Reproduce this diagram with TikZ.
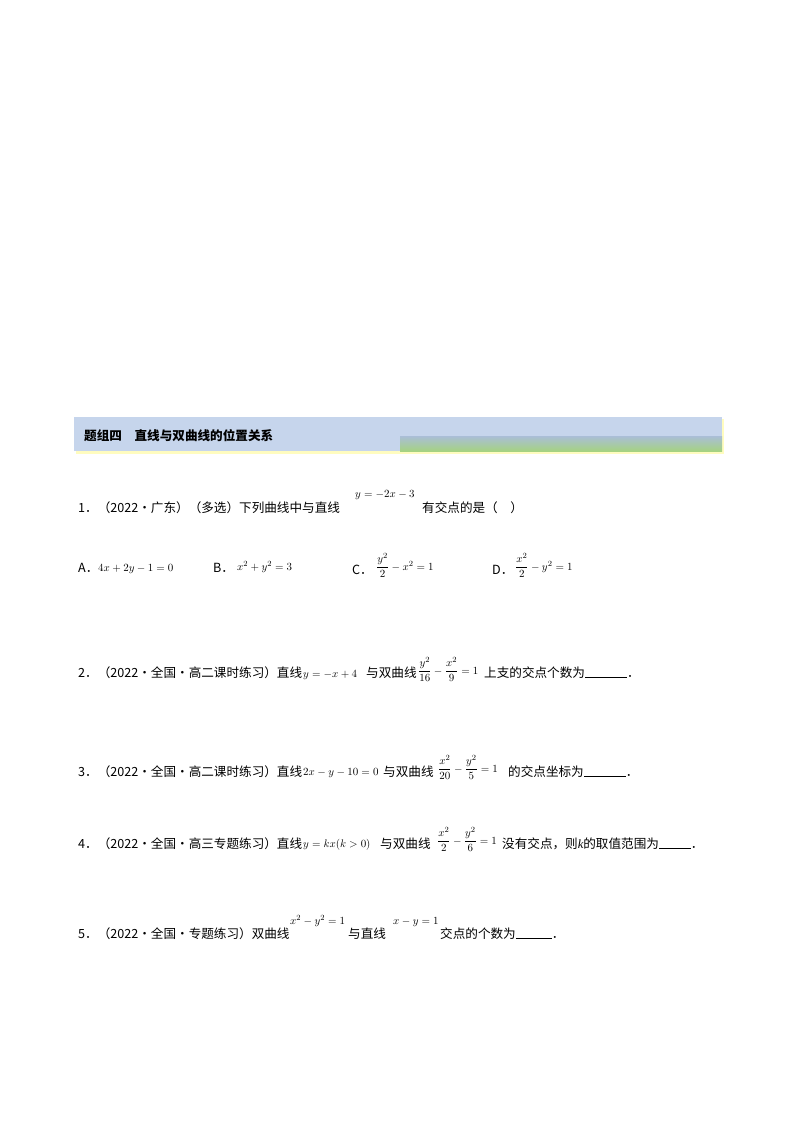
\documentclass[tikz,border=0pt]{standalone}
\usepackage{amsmath}
\usepackage{fontspec}
\setmainfont{Liberation Serif}
\newfontfamily\cjk{Noto Sans CJK SC}
\tikzset{
  txt/.style={anchor=base west,inner sep=0pt,font=\cjk\fontsize{12.6}{14}\selectfont},
  mth/.style={anchor=base west,inner sep=0pt,font=\fontsize{11}{13}\selectfont},
}
\newcommand{\fr}[2]{\dfrac{#1}{#2}}
\begin{document}
\begin{tikzpicture}[x=1pt,y=-1pt]
\useasboundingbox (0,0) rectangle (800,1132);
\fill[white] (0,0) rectangle (800,1132);
% header
\fill[yellow!25] (76,419) rectangle (724,454);
\fill[fill={rgb,255:red,198;green,213;blue,236}] (74,417) rectangle (722,451);
\shade[top color={rgb,255:red,170;green,190;blue,215},bottom color={rgb,255:red,165;green,210;blue,130}] (400,436) rectangle (722,451);
\node[txt,font=\cjk\bfseries\fontsize{12.6}{14}\selectfont] (h) at (84,440) {题组四\quad 直线与双曲线的位置关系};
% Q1
\node[txt] (q1a) at (78,512) {1．（2022·广东）（多选）下列曲线中与直线};
\node[mth] (q1m) at (355,497) {$y=-2x-3$};
\node[txt] (q1b) at (422,512) {有交点的是（\quad ）};
\node[txt] (oa) at (78,572) {A．};
\node[mth] (oam) at (98,571) {$4x+2y-1=0$};
\node[txt] (ob) at (213,572) {B．};
\node[mth] (obm) at (237,570) {$x^2+y^2=3$};
\node[txt] (oc) at (352,574) {C．};
\node[mth] (ocm) at (376,570) {$\fr{y^2}{2}-x^2=1$};
\node[txt] (od) at (492,574) {D．};
\node[mth] (odm) at (515,570) {$\fr{x^2}{2}-y^2=1$};
% Q2
\node[txt] (q2a) at (78,677) {2．（2022·全国·高二课时练习）直线};
\node[mth] (q2m) at (303,677) {$y=-x+4$};
\node[txt] (q2b) at (366,677) {与双曲线};
\node[mth] (q2f) at (418,674) {$\fr{y^2}{16}-\fr{x^2}{9}=1$};
\node[txt] (q2c) at (484,677) {上支的交点个数为\rule{42pt}{0.5pt}．};
% Q3
\node[txt] (q3a) at (78,776) {3．（2022·全国·高二课时练习）直线};
\node[mth] (q3m) at (303,775) {$2x-y-10=0$};
\node[txt] (q3b) at (383,776) {与双曲线};
\node[mth] (q3f) at (438,772) {$\fr{x^2}{20}-\fr{y^2}{5}=1$};
\node[txt] (q3c) at (508,776) {的交点坐标为\rule{42pt}{0.5pt}．};
% Q4
\node[txt] (q4a) at (78,848) {4．（2022·全国·高三专题练习）直线};
\node[mth] (q4m) at (303,847) {$y=kx(k>0)$};
\node[txt] (q4b) at (380,848) {与双曲线};
\node[mth] (q4f) at (437,844) {$\fr{x^2}{2}-\fr{y^2}{6}=1$};
\node[txt] (q4c) at (502,848) {没有交点，则{\rmfamily\itshape k}的取值范围为\rule{32pt}{0.5pt}．};
% Q5
\node[txt] (q5a) at (78,938) {5．（2022·全国·专题练习）双曲线};
\node[mth] (q5m) at (290,924) {$x^2-y^2=1$};
\node[txt] (q5b) at (348,938) {与直线};
\node[mth] (q5n) at (393,924) {$x-y=1$};
\node[txt] (q5c) at (440,938) {交点的个数为\rule{36pt}{0.5pt}．};
\end{tikzpicture}
\end{document}
